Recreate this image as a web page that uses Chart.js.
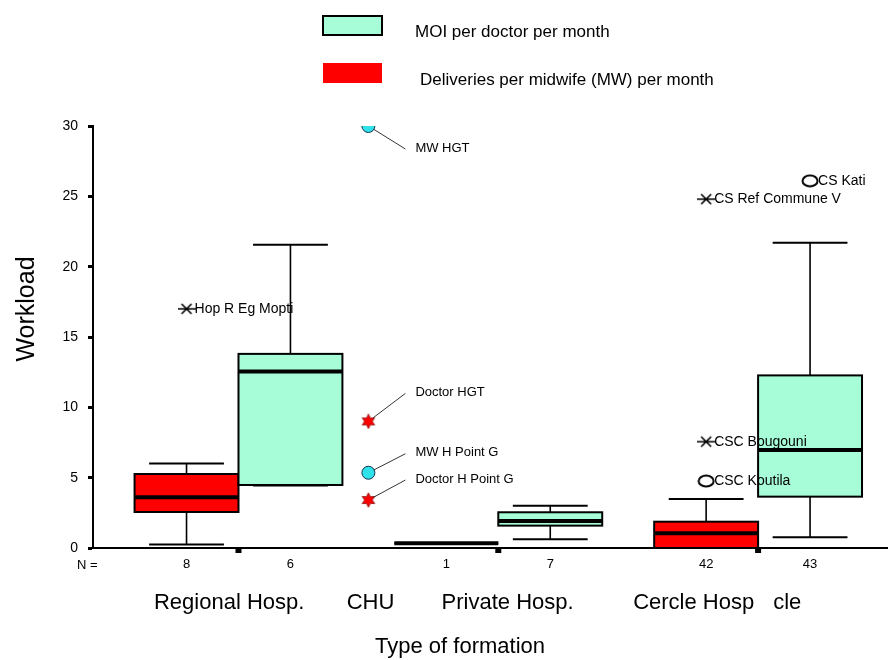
<!DOCTYPE html>
<html>
<head>
<meta charset="utf-8">
<script src="https://cdn.jsdelivr.net/npm/chart.js@4.4.0/dist/chart.umd.min.js"></script>
<style>
  html, body { margin: 0; padding: 0; background: #fff; }
  #wrap { width: 888px; height: 660px; position: relative; }
</style>
</head>
<body>
<div id="wrap"><canvas id="chart" width="888" height="660"></canvas></div>
<script>
// x positions: groups sit at 0, 2.5 and 5, each box is one unit wide
const groupX = [0, 2.5, 5];
const boxX = [-0.5, 0.5, 2, 3, 4.5, 5.5];
const boxSeries = ['deliv', 'moi', 'deliv', 'moi', 'deliv', 'moi'];
const nCounts = [8, 6, 1, 7, 42, 43];

// box statistics
const whiskLo = [0.25, 4.45, 0.33, 0.62, 0, 0.76];
const q1 = [2.56, 4.48, 0.33, 1.59, 0, 3.65];
const median = [3.6, 12.55, 0.33, 1.92, 1.04, 6.96];
const q3 = [5.26, 13.8, 0.33, 2.54, 1.87, 12.27];
const whiskHi = [6.0, 21.55, 0.33, 3.0, 3.48, 21.7];

// extremes (*) and outliers (o)
const extremeX = [-0.5, 4.5, 4.5];
const extremeY = [17, 24.8, 7.56];
const extremeNames = ['Hop R Eg Mopti', 'CS Ref Commune V', 'CSC Bougouni'];
const outlierX = [4.5, 5.5];
const outlierY = [4.76, 26.1];
const outlierNames = ['CSC Koutila', 'CS Kati'];

// CHU points
const chuX = 1.25;
const mwY = [30, 5.35];
const mwNames = ['MW HGT', 'MW H Point G'];
const docY = [9, 3.41];
const docNames = ['Doctor HGT', 'Doctor H Point G'];

// axis labels
const yTicks = [0, 5, 10, 15, 20, 25, 30];
const catX = [-0.09, 1.27, 2.59, 4.38, 5.28];
const catLabels = ['Regional Hosp.', 'CHU', 'Private Hosp.', 'Cercle Hosp', 'cle'];

const TEAL = '#a6fdd8';
const RED = '#ff0000';
const CYAN = '#2fe2ea';
const FONT = "'Liberation Sans', Arial, sans-serif";

Chart.defaults.font.family = FONT;
Chart.defaults.color = '#000';

function marker(w, h, draw) {
  const c = document.createElement('canvas');
  c.width = w; c.height = h;
  draw(c.getContext('2d'), w, h);
  return c;
}

const asterisk = marker(18, 14, (g, w, h) => {
  g.strokeStyle = '#000'; g.lineWidth = 1.6;
  g.beginPath();
  g.moveTo(0, h / 2); g.lineTo(w, h / 2);
  g.moveTo(4, 2); g.lineTo(w - 4, h - 2);
  g.moveTo(w - 4, 2); g.lineTo(4, h - 2);
  g.stroke();
});

const oval = marker(18, 14, (g, w, h) => {
  g.strokeStyle = '#000'; g.lineWidth = 2;
  g.beginPath();
  g.ellipse(w / 2, h / 2, 7.5, 5.5, 0, 0, Math.PI * 2);
  g.stroke();
});

const redStar = marker(16, 16, (g, w, h) => {
  g.fillStyle = RED; g.strokeStyle = '#800'; g.lineWidth = 0.8;
  g.beginPath();
  for (let k = 0; k < 12; k++) {
    const r = k % 2 ? 3.8 : 7.2;
    const a = -Math.PI / 2 + k * Math.PI / 6;
    const px = w / 2 + r * Math.cos(a), py = h / 2 + r * Math.sin(a);
    k ? g.lineTo(px, py) : g.moveTo(px, py);
  }
  g.closePath(); g.fill(); g.stroke();
});

// where the CHU callout labels go relative to their point
const calloutDy = { 'MW HGT': 22, 'MW H Point G': -20, 'Doctor HGT': -29, 'Doctor H Point G': -21 };

const boxPlugin = {
  id: 'boxes',
  beforeDatasetsDraw(chart) {
    const { ctx, scales: { x, y } } = chart;
    ctx.save();
    boxX.forEach((bx, i) => {
      const l = x.getPixelForValue(bx - 0.5), r = x.getPixelForValue(bx + 0.5);
      const c = x.getPixelForValue(bx);
      const cl = x.getPixelForValue(bx - 0.36), cr = x.getPixelForValue(bx + 0.36);
      const yLo = y.getPixelForValue(whiskLo[i]), yHi = y.getPixelForValue(whiskHi[i]);
      const yQ1 = y.getPixelForValue(q1[i]), yQ3 = y.getPixelForValue(q3[i]);
      const yMed = y.getPixelForValue(median[i]);
      ctx.strokeStyle = '#000';
      ctx.lineWidth = 1.6;
      ctx.beginPath();
      ctx.moveTo(c, yHi); ctx.lineTo(c, yQ3);
      ctx.moveTo(c, yQ1); ctx.lineTo(c, yLo);
      ctx.stroke();
      ctx.lineWidth = 2;
      ctx.beginPath();
      ctx.moveTo(cl, yHi); ctx.lineTo(cr, yHi);
      ctx.moveTo(cl, yLo); ctx.lineTo(cr, yLo);
      ctx.stroke();
      ctx.fillStyle = boxSeries[i] === 'moi' ? TEAL : RED;
      ctx.fillRect(l, yQ3, r - l, yQ1 - yQ3);
      ctx.strokeRect(l, yQ3, r - l, yQ1 - yQ3);
      ctx.lineWidth = 4;
      ctx.beginPath();
      ctx.moveTo(l, yMed); ctx.lineTo(r, yMed);
      ctx.stroke();
    });
    ctx.restore();
  },
  afterDatasetsDraw(chart) {
    const { ctx } = chart;
    ctx.save();
    ctx.fillStyle = '#000';
    ctx.textBaseline = 'middle';
    ctx.textAlign = 'left';
    chart.data.datasets.forEach((ds, di) => {
      const pts = chart.getDatasetMeta(di).data;
      ds.names.forEach((name, j) => {
        const p = pts[j];
        if (ds.callout) {
          const dy = calloutDy[name];
          const ex = p.x + 37, ey = p.y + dy + 1;
          const len = Math.hypot(ex - p.x, ey - p.y);
          ctx.strokeStyle = '#000'; ctx.lineWidth = 0.8;
          ctx.beginPath();
          ctx.moveTo(p.x + (ex - p.x) * 6 / len, p.y + (ey - p.y) * 6 / len);
          ctx.lineTo(ex, ey);
          ctx.stroke();
          ctx.font = '13px ' + FONT;
          ctx.fillText(name, p.x + 47, p.y + dy);
        } else {
          ctx.font = '14px ' + FONT;
          ctx.fillText(name, p.x + 8, p.y);
        }
      });
    });
    ctx.restore();
  },
  afterDraw(chart) {
    const { ctx, chartArea, scales: { x } } = chart;
    ctx.save();
    // group tick marks
    ctx.fillStyle = '#000';
    groupX.forEach(g => ctx.fillRect(x.getPixelForValue(g) - 3, chartArea.bottom, 6, 5));
    // N = label
    ctx.font = '13px ' + FONT;
    ctx.textBaseline = 'middle';
    ctx.textAlign = 'left';
    ctx.fillText('N =', 77, 565);
    // axis titles
    ctx.font = '22px ' + FONT;
    ctx.textAlign = 'center';
    ctx.fillText('Type of formation', 460, 647);
    ctx.save();
    ctx.translate(27, 309);
    ctx.rotate(-Math.PI / 2);
    ctx.font = '25px ' + FONT;
    ctx.fillText('Workload', 0, 0);
    ctx.restore();
    // legend
    ctx.textAlign = 'left';
    ctx.fillStyle = TEAL;
    ctx.fillRect(323, 16, 59, 19);
    ctx.strokeStyle = '#000'; ctx.lineWidth = 2;
    ctx.strokeRect(323, 16, 59, 19);
    ctx.fillStyle = RED;
    ctx.fillRect(323, 63, 59, 20);
    ctx.fillStyle = '#000';
    ctx.font = '17px ' + FONT;
    ctx.fillText('MOI per doctor per month', 415, 32);
    ctx.fillText('Deliveries per midwife (MW) per month', 420, 80);
    ctx.restore();
  }
};

const xMin = -1.4, xMax = 6.25;

// keep the horizontal axes from reserving side padding
const noSidePad = h => s => { s.height = h; s.paddingLeft = 0; s.paddingRight = 0; };

new Chart(document.getElementById('chart'), {
  type: 'scatter',
  data: {
    datasets: [
      {
        data: extremeX.map((v, i) => ({ x: v, y: extremeY[i] })),
        names: extremeNames,
        pointStyle: asterisk, pointRadius: 8
      },
      {
        data: outlierX.map((v, i) => ({ x: v, y: outlierY[i] })),
        names: outlierNames,
        pointStyle: oval, pointRadius: 8
      },
      {
        data: mwY.map(v => ({ x: chuX, y: v })),
        names: mwNames, callout: true,
        pointStyle: 'circle', pointRadius: 6.5,
        backgroundColor: CYAN, borderColor: '#135', borderWidth: 1
      },
      {
        data: docY.map(v => ({ x: chuX, y: v })),
        names: docNames, callout: true,
        pointStyle: redStar, pointRadius: 8
      }
    ]
  },
  options: {
    responsive: false,
    animation: false,
    events: [],
    layout: { autoPadding: false, padding: { top: 126, left: 0, right: 0, bottom: 0 } },
    plugins: { legend: { display: false }, tooltip: { enabled: false } },
    scales: {
      x: {
        type: 'linear', position: 'bottom', min: xMin, max: xMax, weight: 0,
        afterBuildTicks: s => { s.ticks = boxX.map(v => ({ value: v })); },
        afterFit: noSidePad(30),
        ticks: { autoSkip: false, maxRotation: 0, padding: 9, font: { size: 13 },
                 callback: (v, i) => String(nCounts[i]) },
        grid: { display: false, drawTicks: false },
        border: { display: true, color: '#000', width: 2 }
      },
      y: {
        min: 0, max: 30,
        afterBuildTicks: s => { s.ticks = yTicks.map(v => ({ value: v })); },
        afterFit: s => { s.width = 93; s.paddingTop = 0; s.paddingBottom = 0; },
        ticks: { padding: 10, font: { size: 14 } },
        grid: { drawOnChartArea: false, drawTicks: true, tickLength: 5, tickWidth: 3, color: '#000' },
        border: { display: true, color: '#000', width: 2 }
      },
      cat: {
        type: 'linear', axis: 'x', position: 'bottom', min: xMin, max: xMax, weight: 1,
        afterBuildTicks: s => { s.ticks = catX.map(v => ({ value: v })); },
        afterFit: noSidePad(82),
        ticks: { autoSkip: false, maxRotation: 0, padding: 12, font: { size: 22 },
                 callback: (v, i) => catLabels[i] },
        grid: { display: false, drawTicks: false },
        border: { display: false }
      }
    }
  },
  plugins: [boxPlugin]
});
</script>
</body>
</html>
